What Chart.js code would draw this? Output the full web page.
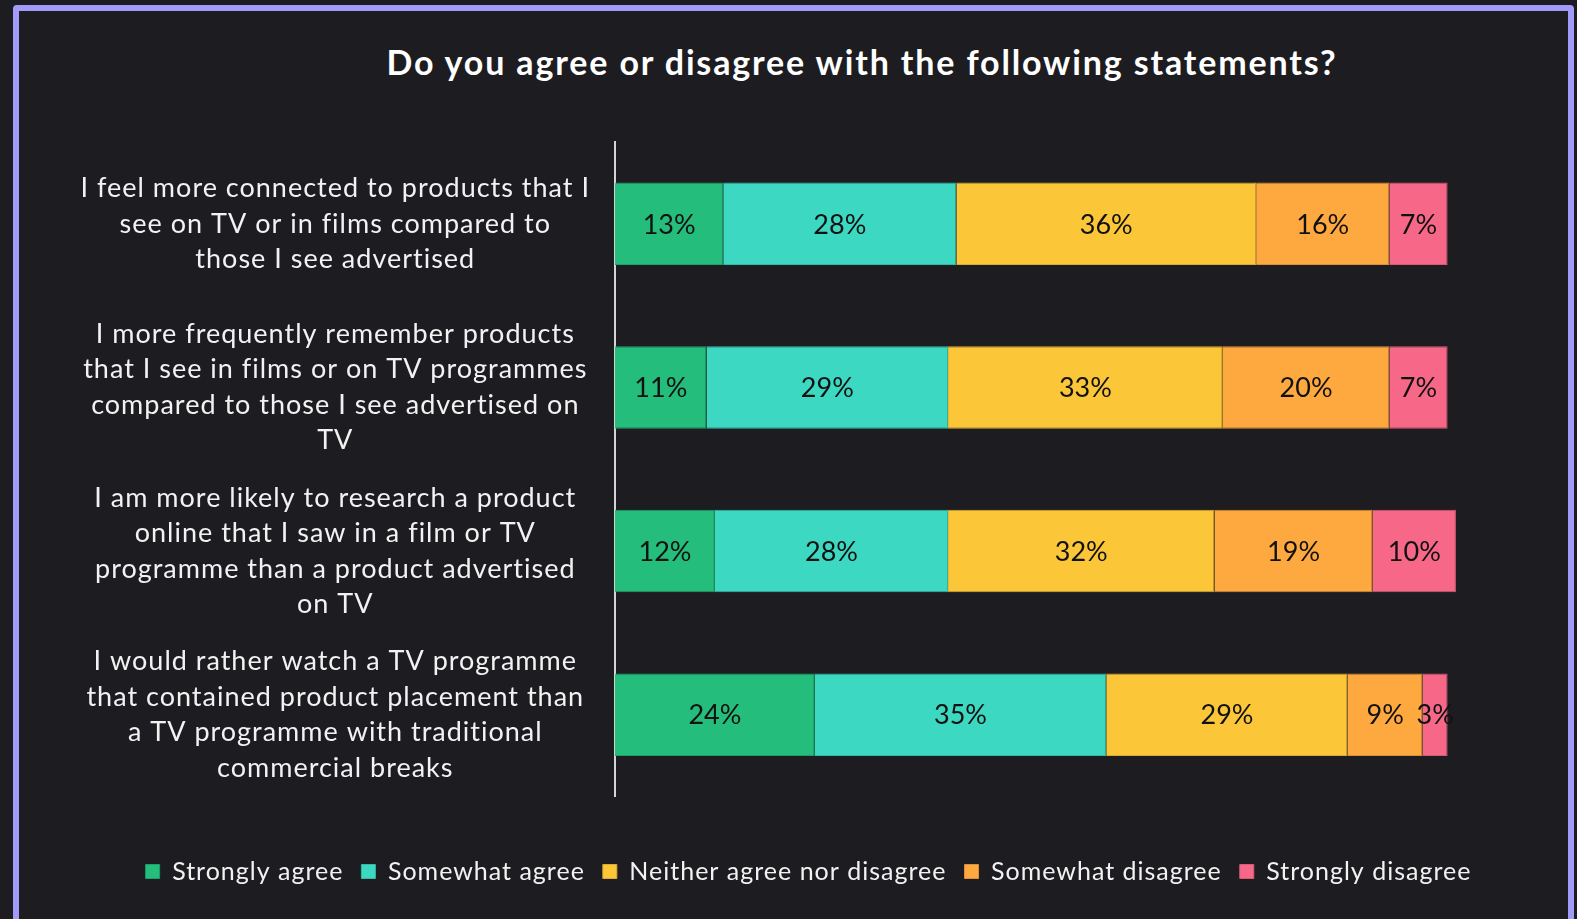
<!DOCTYPE html>
<html>
<head>
<meta charset="utf-8">
<script src="https://cdn.jsdelivr.net/npm/chart.js@4.4.1/dist/chart.umd.min.js"></script>
<style>
  html, body { margin: 0; padding: 0; background: #1d1d21; overflow: hidden; }
  #wrap { position: relative; width: 1577px; height: 919px; }
  #frame { position: absolute; left: 13px; top: 5px; width: 1549px; height: 960px;
           border: 6px solid #a19cfa; border-radius: 4px; box-sizing: content-box; }
  #title { position: absolute; top: 40px; left: 362px; width: 1000px; text-align: center;
           font-family: Lato, "Open Sans", sans-serif; font-weight: 700; font-size: 34px;
           letter-spacing: 1.85px; color: #ffffff; line-height: 44px; }
  canvas { position: absolute; left: 0; top: 0; }
</style>
</head>
<body>
<div id="wrap">
  <div id="frame"></div>
  <div id="title">Do you agree or disagree with the following statements?</div>
  <canvas id="c" width="1577" height="919"></canvas>
</div>
<script>
const categories = [
  ["I feel more connected to products that I", "see on TV or in films compared to", "those I see advertised"],
  ["I more frequently remember products", "that I see in films or on TV programmes", "compared to those I see advertised on", "TV"],
  ["I am more likely to research a product", "online that I saw in a film or TV", "programme than a product advertised", "on TV"],
  ["I would rather watch a TV programme", "that contained product placement than", "a TV programme with traditional", "commercial breaks"]
];
const seriesNames = ["Strongly agree", "Somewhat agree", "Neither agree nor disagree", "Somewhat disagree", "Strongly disagree"];
const stronglyAgree = [13, 11, 12, 24];
const somewhatAgree = [28, 29, 28, 35];
const neither = [36, 33, 32, 29];
const somewhatDisagree = [16, 20, 19, 9];
const stronglyDisagree = [7, 7, 10, 3];
const seriesColors = ["#25bd7b", "#3dd8c1", "#fbc638", "#fea940", "#f76888"];
const seriesBorders = ["#1f9f68", "#34b9a5", "#d9ab30", "#d99139", "#d45a76"];

const seriesValues = [stronglyAgree, somewhatAgree, neither, somewhatDisagree, stronglyDisagree];

const spacingPlugin = {
  id: 'spacing',
  beforeUpdate(chart) { chart.ctx.letterSpacing = '1px'; },
  beforeDraw(chart) { chart.ctx.letterSpacing = '1px'; }
};

const labelPlugin = {
  id: 'segLabels',
  afterDatasetsDraw(chart) {
    const ctx = chart.ctx;
    ctx.save();
    ctx.letterSpacing = '0px';
    ctx.font = '27px Lato, "Open Sans", sans-serif';
    ctx.fillStyle = '#111111';
    ctx.textAlign = 'center';
    ctx.textBaseline = 'middle';
    chart.data.datasets.forEach((ds, di) => {
      const meta = chart.getDatasetMeta(di);
      meta.data.forEach((el, i) => {
        const v = ds.data[i];
        const cx = (el.x + el.base) / 2;
        ctx.fillText(v + '%', cx, el.y + 1);
      });
    });
    ctx.restore();
  }
};

new Chart(document.getElementById('c'), {
  type: 'bar',
  data: {
    labels: categories,
    datasets: seriesNames.map((name, k) => ({
      label: name,
      data: seriesValues[k],
      backgroundColor: seriesColors[k],
      borderColor: seriesBorders[k],
      borderWidth: 1,
      borderSkipped: 'start',
      categoryPercentage: 1.0,
      barPercentage: 0.504
    }))
  },
  options: {
    indexAxis: 'y',
    responsive: false,
    animation: false,
    devicePixelRatio: 1,
    layout: { padding: { left: 47, right: 7, top: 142, bottom: 25 } },
    scales: {
      x: {
        stacked: true,
        min: 0,
        max: 114.7,
        display: true,
        grid: { display: false },
        border: { display: false },
        ticks: { display: false },
        afterFit(scale) { scale.height = 44.5; }
      },
      y: {
        stacked: true,
        grid: { display: false, drawTicks: false },
        border: { display: true, color: '#d4d4d4', width: 2 },
        ticks: {
          crossAlign: 'center',
          padding: 25,
          color: '#f2f2f2',
          font: { family: 'Lato, "Open Sans", sans-serif', size: 27, lineHeight: 1.315 }
        },
        afterFit(scale) { scale.width = 568; }
      }
    },
    plugins: {
      title: { display: false },
      tooltip: { enabled: false },
      legend: {
        display: true,
        position: 'bottom',
        labels: {
          boxWidth: 14,
          boxHeight: 14,
          padding: 18,
          color: '#f2f2f2',
          font: { family: 'Lato, "Open Sans", sans-serif', size: 25 }
        }
      }
    }
  },
  plugins: [spacingPlugin, labelPlugin]
});
</script>
</body>
</html>
